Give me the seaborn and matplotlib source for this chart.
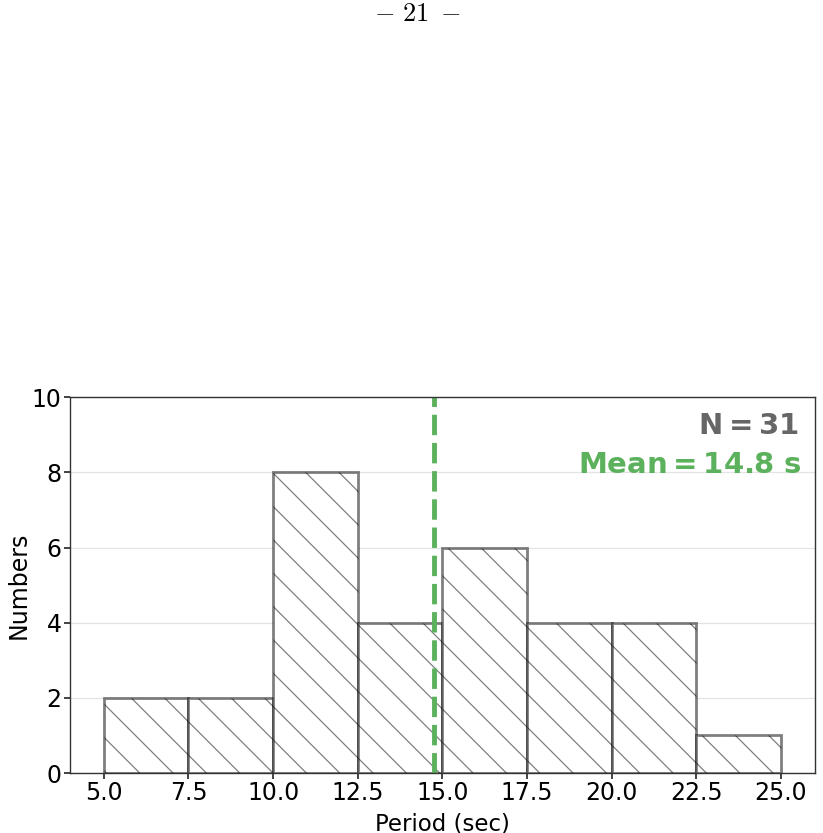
import matplotlib
matplotlib.use("Agg")
import matplotlib.pyplot as plt
import seaborn as sns
import numpy as np

bin_edges = [5.0, 7.5, 10.0, 12.5, 15.0, 17.5, 20.0, 22.5, 25.0]
counts = [2, 2, 8, 4, 6, 4, 4, 1]
mean_period = 14.75
n_total = 31
xtick_vals = [5.0, 7.5, 10.0, 12.5, 15.0, 17.5, 20.0, 22.5, 25.0]
ytick_vals = [0, 2, 4, 6, 8, 10]

sns.set_style("ticks")
plt.rcParams['font.family'] = ['DejaVu Sans']
plt.rcParams['mathtext.fontset'] = 'dejavusans'
plt.rcParams['hatch.linewidth'] = 0.9
plt.rcParams['hatch.color'] = '#555555'
plt.rcParams['text.color'] = 'black'
plt.rcParams['axes.labelcolor'] = 'black'
plt.rcParams['xtick.color'] = 'black'
plt.rcParams['ytick.color'] = 'black'

fig = plt.figure(figsize=(8.23, 8.33), dpi=100)
ax = fig.add_axes([0.085, 0.072, 0.905, 0.451])

centers = [(bin_edges[i] + bin_edges[i + 1]) / 2 for i in range(len(counts))]
sns.histplot(x=centers, weights=counts, bins=bin_edges, ax=ax,
             color='white', edgecolor=(0, 0, 0, 0.5), linewidth=2.0,
             hatch='\\', alpha=1.0)

ax.axvline(mean_period, color='#5cb15c', linestyle='--', linewidth=3.5, dashes=(4.2, 1.6))

ax.set_xlim(4.0, 26.0)
ax.set_ylim(0, 10)
ax.set_xticks(xtick_vals)
ax.set_xticklabels([f"{v:.1f}" for v in xtick_vals])
ax.set_yticks(ytick_vals)
ax.yaxis.grid(True, color='#e3e3e3', linewidth=0.9)
ax.set_axisbelow(True)
ax.tick_params(labelsize=17, length=4, width=1.2, pad=2, color='#222222')
for s in ax.spines.values():
    s.set_color('#333333')
    s.set_linewidth(1.0)
ax.set_ylabel("Numbers", fontsize=17, labelpad=1)
ax.set_xlabel("Period (sec)", fontsize=16.5, labelpad=5)

ax.text(0.979, 0.962, rf"$\mathbf{{N = {n_total}}}$",
        transform=ax.transAxes, ha='right', va='top', fontsize=21,
        color='#666666')
ax.text(0.982, 0.856, rf"$\mathbf{{Mean = {mean_period:.1f}\ s}}$", transform=ax.transAxes,
        ha='right', va='top', fontsize=21, color='#5cb15c')

fig.text(0.508, 0.983, r"$-\ 21\ -$", ha='center', va='center', fontsize=19,
         math_fontfamily='cm')

fig.savefig("out.png", dpi=100)
